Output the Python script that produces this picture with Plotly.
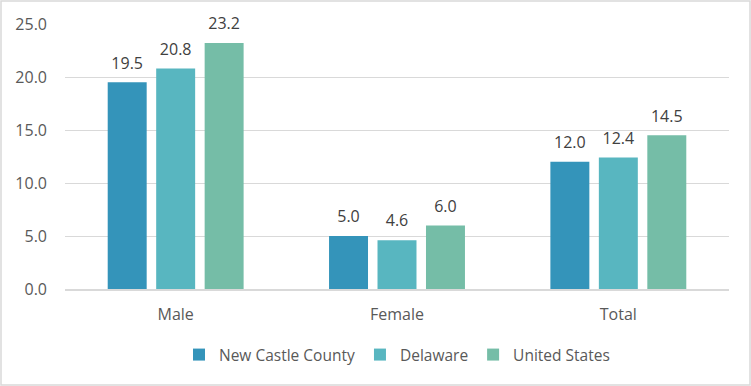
import plotly.graph_objects as go

categories = ["Male", "Female", "Total"]
series_names = ["New Castle County", "Delaware", "United States"]
ncc = [19.5, 5.0, 12.0]
delaware = [20.8, 4.6, 12.4]
us = [23.2, 6.0, 14.5]
colors = ["#3494BA", "#58B6C0", "#75BDA7"]
y_ticks = [0, 5, 10, 15, 20, 25]

W, H = 751, 386
L, R, T, B = 65, 22, 24, 97
pw, ph = W - L - R, H - T - B
FONT = "Open Sans, Lato, sans-serif"

fig = go.Figure()
for i, (name, vals, col) in enumerate(zip(series_names, [ncc, delaware, us], colors)):
    fig.add_trace(go.Bar(
        x=categories, y=vals, name=name, marker=dict(color=col, line=dict(width=0)),
        offsetgroup=str(i), hoverinfo="skip",
    ))
for i, vals in enumerate([ncc, delaware, us]):
    fig.add_trace(go.Scatter(
        x=categories, y=vals, mode="markers+text", offsetgroup=str(i),
        marker=dict(size=14, opacity=0), text=[f"{v:.1f}" for v in vals],
        textposition="top center", textfont=dict(size=16, color="#404040", family=FONT),
        showlegend=False, cliponaxis=False, hoverinfo="skip",
    ))

fig.update_layout(
    width=W, height=H, autosize=False,
    margin=dict(l=L, r=R, t=T, b=B, pad=0, autoexpand=False),
    paper_bgcolor="white", plot_bgcolor="white",
    font=dict(family=FONT, size=15, color="#595959"),
    barmode="group", bargap=0.343, bargroupgap=0.196,
    scattermode="group", scattergap=0.343,
    legend=dict(orientation="h", x=0.5, xanchor="center", y=(289 - 355) / ph, yanchor="middle",
                font=dict(size=15.5, color="#595959"), traceorder="normal"),
    xaxis=dict(showgrid=False, showline=True, linecolor="#D9D9D9", linewidth=1.5,
               ticks="", ticklabelstandoff=10, tickfont=dict(size=16), automargin=False),
    yaxis=dict(range=[0, 25], tickvals=y_ticks, ticktext=[f"{v:.1f}" for v in y_ticks],
               showgrid=True, gridcolor="#D9D9D9", gridwidth=1, zeroline=False,
               showline=False, ticks="", ticklabelstandoff=17, tickfont=dict(size=16),
               automargin=False),
    shapes=[dict(type="rect", xref="paper", yref="paper",
                 x0=(1 - L) / pw, x1=(W - 1 - L) / pw,
                 y0=(H - B - (H - 1)) / ph, y1=(H - B - 1) / ph,
                 line=dict(color="#D9D9D9", width=1.5), fillcolor="rgba(0,0,0,0)", layer="below")],
)

fig.write_html("out.html", config={"displayModeBar": False},
               post_script="document.body.style.margin='0';document.body.style.overflow='hidden';")
